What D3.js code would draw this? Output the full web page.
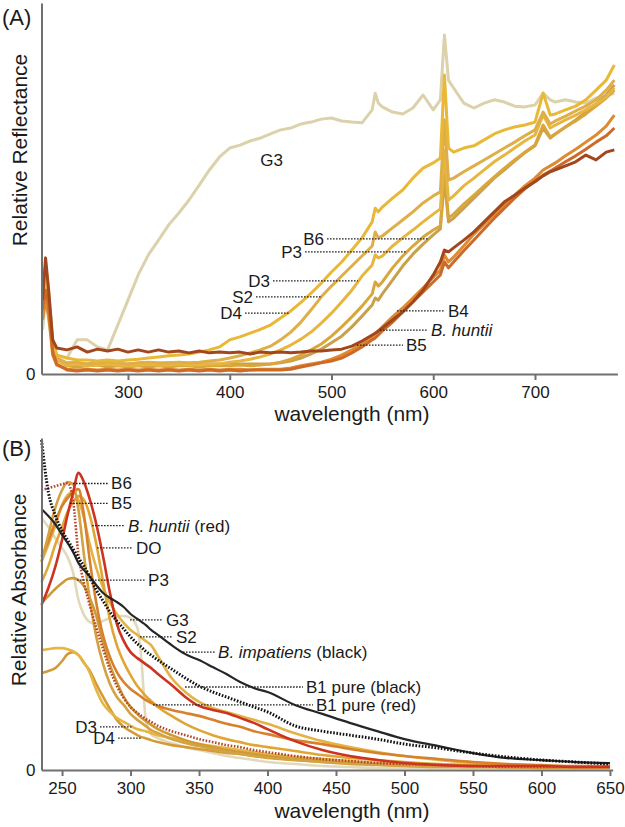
<!DOCTYPE html>
<html>
<head>
<meta charset="utf-8">
<script src="https://cdn.jsdelivr.net/npm/d3@7"></script>
<style>
    body { margin: 0; background: #fff; }
    svg { display: block; font-family: "Liberation Sans", Arial, Helvetica, sans-serif; }
    .axis path, .axis line { stroke: #707070; stroke-width: 2; }
    .axis text { font-size: 17px; fill: #1a1a1a; font-family: "Liberation Sans", Arial, sans-serif; }
    .leader { stroke: #222; stroke-width: 1.3; stroke-dasharray: 1.6 1.4; }
    .lbl { font-size: 17px; fill: #1a1a1a; }
    .title { font-size: 21px; fill: #1a1a1a; }
</style>
</head>
<body>
<svg id="chart" width="625" height="827"></svg>
<script>
// Panel A: reflectance spectra
const wlA = [216, 219, 222, 226, 230, 240, 250, 260, 270, 280, 290, 300, 310, 320, 330, 340, 350, 360, 370, 380,
    390, 400, 410, 420, 430, 440, 450, 460, 470, 480, 490, 500, 510, 520, 530, 540, 543, 546, 550, 560,
    570, 580, 590, 600, 607, 611, 615, 620, 630, 640, 650, 660, 670, 680, 690, 700, 708, 715, 720, 730,
    740, 750, 760, 770, 778];
const ticksA = [300, 400, 500, 600, 700];

const g3A = [.119, .199, .146, .078, .051, .043, .092, .092, .073, .065, .132, .199, .267, .321, .361, .402, .434, .469, .509, .550,
    .585, .609, .617, .628, .636, .647, .658, .663, .674, .679, .687, .690, .682, .679, .677, .712, .757, .730, .720, .706,
    .701, .717, .752, .712, .739, .914, .792, .771, .730, .717, .730, .739, .733, .722, .720, .725, .757, .739, .733, .739,
    .733, .730, .744, .749, .757];
const b6A = [.186, .253, .199, .078, .043, .027, .024, .027, .030, .027, .024, .027, .030, .027, .027, .030, .027, .027, .030, .027,
    .027, .030, .027, .027, .027, .027, .030, .035, .043, .054, .067, .084, .102, .127, .156, .186, .205, .199, .216, .253,
    .291, .323, .350, .375, .391, .523, .410, .420, .447, .474, .501, .528, .550, .574, .596, .615, .663, .636, .647, .666,
    .685, .706, .728, .752, .779];
const p3A = [.159, .240, .186, .070, .038, .022, .019, .022, .024, .019, .022, .019, .022, .019, .022, .019, .022, .022, .019, .022,
    .022, .022, .024, .022, .024, .027, .032, .040, .051, .065, .081, .102, .127, .154, .183, .216, .248, .237, .248, .286,
    .318, .345, .369, .388, .399, .550, .420, .431, .458, .482, .507, .531, .555, .577, .598, .617, .671, .639, .647, .666,
    .682, .701, .722, .744, .765];
const d3A = [.173, .267, .173, .065, .038, .024, .027, .022, .024, .027, .024, .022, .024, .027, .024, .024, .027, .024, .024, .027,
    .027, .032, .035, .040, .046, .054, .065, .078, .094, .113, .137, .164, .194, .226, .264, .294, .321, .313, .318, .345,
    .367, .388, .410, .431, .445, .604, .469, .480, .507, .528, .550, .572, .590, .609, .628, .644, .698, .663, .671, .685,
    .698, .712, .728, .747, .771];
const s2A = [.146, .226, .199, .078, .043, .030, .032, .027, .030, .032, .030, .027, .030, .032, .030, .030, .032, .030, .032, .035,
    .038, .043, .049, .057, .065, .075, .092, .113, .140, .173, .208, .237, .264, .291, .318, .345, .383, .367, .372, .394,
    .415, .437, .461, .480, .491, .685, .523, .528, .545, .561, .577, .593, .609, .625, .642, .658, .706, .674, .682, .695,
    .709, .722, .739, .765, .792];
const d4A = [.199, .294, .226, .092, .051, .043, .038, .038, .035, .038, .035, .038, .040, .043, .046, .049, .051, .054, .059, .065,
    .073, .092, .100, .110, .120, .132, .151, .170, .193, .218, .245, .275, .302, .334, .367, .410, .447, .437, .450, .474,
    .496, .528, .555, .569, .582, .806, .609, .598, .609, .615, .631, .647, .658, .666, .671, .679, .757, .698, .701, .712,
    .722, .739, .765, .792, .833];
const b4A = [.146, .199, .159, .051, .024, .013, .011, .013, .011, .013, .011, .013, .011, .013, .011, .013, .011, .013, .011, .013,
    .011, .013, .013, .011, .013, .013, .013, .016, .022, .027, .032, .040, .051, .065, .081, .100, .108, .116, .127, .154,
    .178, .205, .232, .261, .280, .321, .302, .315, .345, .377, .404, .431, .458, .482, .507, .528, .550, .561, .569, .588,
    .606, .625, .644, .668, .698];
const huntiiA = [.173, .226, .186, .059, .027, .011, .008, .011, .008, .011, .008, .011, .008, .011, .008, .011, .008, .011, .008, .011,
    .008, .011, .008, .011, .011, .011, .011, .013, .019, .024, .030, .035, .043, .057, .073, .092, .097, .105, .116, .140,
    .167, .194, .221, .248, .267, .302, .286, .302, .332, .361, .391, .420, .447, .474, .499, .520, .536, .547, .555, .572,
    .588, .606, .625, .642, .663];
const b5A = [.199, .313, .226, .092, .070, .065, .073, .059, .067, .062, .067, .059, .065, .059, .065, .059, .062, .057, .062, .057,
    .059, .057, .059, .054, .059, .057, .059, .057, .059, .062, .062, .065, .067, .075, .089, .105, .110, .116, .124, .146,
    .167, .194, .226, .267, .302, .334, .329, .340, .361, .383, .410, .437, .464, .482, .501, .518, .534, .545, .550, .561,
    .572, .590, .577, .598, .604];

// Panel B: absorbance spectra
const wlB = [235, 240, 245, 250, 254, 258, 262, 266, 270, 275, 280, 285, 290, 295, 300, 305, 308, 311, 315, 320,
    330, 340, 350, 360, 370, 380, 390, 400, 420, 440, 460, 480, 500, 525, 550, 575, 600, 625, 650];
const ticksB = [250, 300, 350, 400, 450, 500, 550, 600, 650];

const g3B = [.759, .732, .699, .669, .642, .596, .512, .467, .446, .440, .449, .458, .464, .464, .458, .428, .331, .157, .108, .096,
    .081, .069, .060, .051, .042, .036, .030, .024, .018, .012, .009, .006, .006, .006, .006, .006, .006, .006, .006];
const d4B = [.292, .298, .307, .328, .349, .355, .346, .322, .301, .259, .220, .184, .151, .130, .117, .105, .099, .096, .090, .084,
    .075, .069, .063, .057, .051, .048, .042, .039, .030, .024, .021, .018, .015, .012, .009, .009, .006, .006, .006];
const d3B = [.361, .364, .367, .367, .364, .358, .346, .325, .295, .241, .199, .175, .157, .145, .133, .123, .120, .117, .111, .105,
    .096, .087, .078, .072, .066, .060, .054, .048, .039, .033, .027, .021, .018, .015, .012, .009, .009, .009, .009];
const p3B = [.503, .524, .545, .563, .575, .578, .572, .554, .521, .464, .383, .316, .265, .220, .190, .169, .157, .148, .136, .123,
    .105, .090, .078, .069, .060, .054, .048, .042, .033, .027, .021, .018, .015, .012, .012, .009, .009, .009, .009];
const s2B = [.627, .678, .735, .798, .828, .837, .813, .759, .684, .608, .548, .503, .470, .443, .422, .407, .398, .389, .376, .343,
    .277, .235, .205, .187, .175, .163, .151, .139, .111, .087, .069, .054, .042, .030, .021, .015, .012, .009, .009];
const doB = [.566, .614, .678, .732, .777, .807, .825, .813, .771, .681, .566, .452, .376, .325, .286, .253, .238, .223, .208, .190,
    .163, .139, .120, .105, .093, .084, .075, .069, .057, .045, .036, .030, .024, .018, .015, .012, .009, .009, .009];
const b5B = [.642, .690, .747, .795, .819, .837, .846, .768, .639, .503, .404, .340, .295, .265, .244, .229, .220, .211, .202, .193,
    .181, .172, .163, .151, .139, .130, .117, .108, .090, .078, .063, .051, .042, .033, .024, .018, .015, .012, .012];
const b6B = [.627, .708, .789, .843, .867, .861, .783, .648, .521, .401, .319, .259, .220, .196, .169, .151, .142, .133, .120, .111,
    .093, .081, .072, .063, .054, .048, .042, .036, .030, .024, .018, .015, .012, .009, .009, .009, .009, .009, .009];
const b1RedB = [.843, .849, .855, .861, .864, .813, .648, .563, .500, .428, .364, .301, .253, .217, .190, .172, .163, .154, .145, .133,
    .117, .105, .093, .084, .075, .069, .060, .054, .042, .033, .027, .021, .018, .015, .012, .009, .009, .009, .009];
const huntiiB = [.497, .548, .611, .693, .768, .834, .895, .867, .819, .741, .642, .533, .440, .389, .355, .337, .328, .319, .307, .289,
    .256, .220, .193, .181, .172, .157, .142, .123, .087, .060, .042, .030, .021, .015, .012, .012, .012, .009, .009];
const impatiensB = [.786, .765, .741, .708, .684, .657, .623, .602, .584, .557, .533, .518, .506, .491, .470, .455, .446, .437, .422, .407,
    .376, .349, .331, .310, .289, .265, .247, .235, .196, .169, .142, .117, .093, .072, .051, .036, .030, .024, .021];
const b1BlackB = [.994, .837, .768, .720, .693, .666, .639, .614, .584, .542, .509, .476, .449, .425, .401, .380, .370, .358, .346, .331,
    .304, .277, .253, .235, .220, .205, .190, .175, .133, .117, .105, .093, .078, .066, .051, .039, .030, .024, .018];

// Series tables (drawing order = back to front)
const seriesA = [
    { values: g3A, color: '#dbd1aa' },
    { values: b6A, color: '#c9a04c' },
    { values: p3A, color: '#d9a63c' },
    { values: d3A, color: '#e6b640' },
    { values: s2A, color: '#dfae48' },
    { values: d4A, color: '#e8b836' },
    { values: b4A, color: '#dd8a30' },
    { values: huntiiA, color: '#cd6a28' },
    { values: b5A, color: '#a2461e' }
];

const seriesB = [
    { values: g3B, color: '#e2d9ba' },
    { values: d4B, color: '#d49a38' },
    { values: d3B, color: '#e6b644' },
    { values: p3B, color: '#cf9a33' },
    { values: s2B, color: '#e3b347' },
    { values: doB, color: '#e0a634' },
    { values: b5B, color: '#d8812c' },
    { values: b6B, color: '#d4a242' },
    { values: b1RedB, color: '#b5462b', dash: '1.6 1.6', width: 2.6 },
    { values: huntiiB, color: '#cc3321' },
    { values: impatiensB, color: '#262626', width: 2.2 },
    { values: b1BlackB, color: '#111', dash: '1.6 1.6', width: 3 }
];

// Labels: [text, italic] parts, leader from x1 to x2 (nm) at value v
const labelsA = [
    { parts: [['G3', false]], x1: null, x2: 427, v: 0.577, side: 'right' },
    { parts: [['B6', false]], x1: 495.6, x2: 594.8, v: 0.364, side: 'left' },
    { parts: [['P3', false]], x1: 474, x2: 574.2, v: 0.329, side: 'left' },
    { parts: [['D3', false]], x1: 442.5, x2: 526, v: 0.251, side: 'left' },
    { parts: [['S2', false]], x1: 425.8, x2: 490.7, v: 0.208, side: 'left' },
    { parts: [['D4', false]], x1: 415, x2: 459.2, v: 0.164, side: 'left' },
    { parts: [['B4', false]], x1: 564.4, x2: 611.5, v: 0.170, side: 'right' },
    { parts: [['B. huntii', true]], x1: 547.7, x2: 594.8, v: 0.118, side: 'right' },
    { parts: [['B5', false]], x1: 525, x2: 570.3, v: 0.078, side: 'right' }
];

const labelsB = [
    { parts: [['B6', false]], x1: 258.0, x2: 283.6, v: 0.863, side: 'right' },
    { parts: [['B5', false]], x1: 255.8, x2: 283.6, v: 0.803, side: 'right' },
    { parts: [['B. huntii', true], [' (red)', false]], x1: 271.9, x2: 296.0, v: 0.736, side: 'right' },
    { parts: [['DO', false]], x1: 275.5, x2: 301.8, v: 0.669, side: 'right' },
    { parts: [['P3', false]], x1: 260.9, x2: 310.6, v: 0.572, side: 'right' },
    { parts: [['G3', false]], x1: 299.6, x2: 323.7, v: 0.452, side: 'right' },
    { parts: [['S2', false]], x1: 306.9, x2: 331.0, v: 0.401, side: 'right' },
    { parts: [['B. impatiens', true], [' (black)', false]], x1: 338.3, x2: 361.7, v: 0.355, side: 'right' },
    { parts: [['B1 pure (black)', false]], x1: 339.8, x2: 425.9, v: 0.250, side: 'right' },
    { parts: [['B1 pure (red)', false]], x1: 316.4, x2: 433.2, v: 0.196, side: 'right' },
    { parts: [['D3', false]], x1: 277.7, x2: 301.8, v: 0.130, side: 'left' },
    { parts: [['D4', false]], x1: 290.9, x2: 308.4, v: 0.096, side: 'left' }
];

const svg = d3.select('#chart');

// Draw one panel
function drawPanel(cfg) {
    const x = d3.scaleLinear().domain(cfg.xDomain).range(cfg.xRange);
    const y = d3.scaleLinear().domain([0, 1]).range(cfg.yRange);
    const g = svg.append('g');

    const line = d3.line()
        .x((d, i) => x(cfg.wl[i]))
        .y(d => y(d))
        .curve(cfg.curve);

    g.selectAll('path.spec')
        .data(cfg.series)
        .enter()
        .append('path')
        .attr('class', 'spec')
        .attr('d', s => line(s.values))
        .attr('fill', 'none')
        .attr('stroke', s => s.color)
        .attr('stroke-width', s => s.width || cfg.width)
        .attr('stroke-dasharray', s => s.dash || null)
        .attr('stroke-linejoin', 'round');

    // Axes
    g.append('g')
        .attr('class', 'axis')
        .attr('transform', `translate(0,${y(0)})`)
        .call(d3.axisBottom(x).tickValues(cfg.ticks).tickSize(6).tickSizeOuter(0).tickPadding(6));

    g.append('g')
        .attr('class', 'axis')
        .attr('transform', `translate(${cfg.xRange[0]},0)`)
        .call(d3.axisLeft(y).tickValues([0]).tickSize(0).tickSizeOuter(0).tickPadding(6).tickFormat(d3.format('d')));

    // Labels with dotted leaders
    cfg.labels.forEach(l => {
        const ly = y(l.v);
        if (l.x1 !== null) {
            g.append('line')
                .attr('class', 'leader')
                .attr('x1', x(l.x1)).attr('x2', x(l.x2))
                .attr('y1', ly).attr('y2', ly);
        }
        const t = g.append('text')
            .attr('class', 'lbl')
            .attr('x', l.side === 'left' ? x(l.x1) - 3 : x(l.x2) + 3)
            .attr('y', ly)
            .attr('dy', '0.35em')
            .attr('text-anchor', l.side === 'left' ? 'end' : 'start');
        l.parts.forEach(p => {
            t.append('tspan').text(p[0]).attr('font-style', p[1] ? 'italic' : null);
        });
    });

    // Titles
    g.append('text')
        .attr('class', 'title')
        .attr('x', 352).attr('y', cfg.xTitleY)
        .attr('text-anchor', 'middle')
        .text('wavelength (nm)');

    g.append('text')
        .attr('class', 'title')
        .attr('transform', `translate(${cfg.yTitleX},${cfg.yTitleY}) rotate(-90)`)
        .attr('text-anchor', 'middle')
        .text(cfg.yTitle);

    g.append('text')
        .attr('x', 2).attr('y', cfg.tagY)
        .attr('font-size', 22)
        .attr('fill', '#1a1a1a')
        .text(cfg.tag);
}

drawPanel({
    wl: wlA, series: seriesA, labels: labelsA, ticks: ticksA,
    xDomain: [215, 781], xRange: [41.5, 617.4], yRange: [374, 3],
    curve: d3.curveLinear, width: 3,
    xTitleY: 421, yTitle: 'Relative Reflectance', yTitleX: 27, yTitleY: 150,
    tag: '(A)', tagY: 25
});

drawPanel({
    wl: wlB, series: seriesB, labels: labelsB, ticks: ticksB,
    xDomain: [235, 652], xRange: [41.5, 612.7], yRange: [770, 438],
    curve: d3.curveMonotoneX, width: 2.6,
    xTitleY: 818, yTitle: 'Relative Absorbance', yTitleX: 26, yTitleY: 590,
    tag: '(B)', tagY: 456
});
</script>
</body>
</html>
